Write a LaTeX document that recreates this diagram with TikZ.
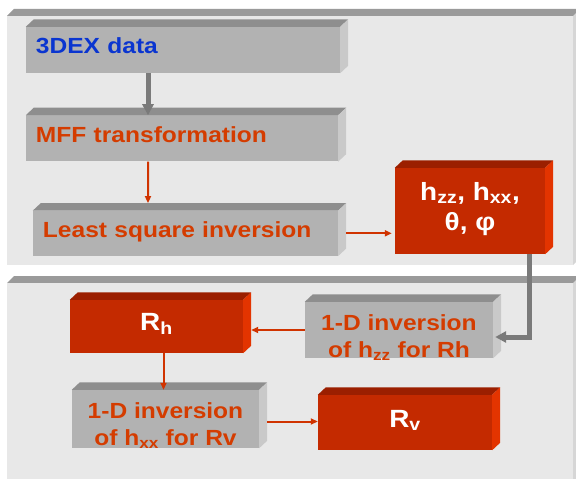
\documentclass[tikz,border=0pt]{standalone}
\usepackage{fontspec}
\setmainfont{Liberation Sans}[FakeStretch=1.12]
\usepackage{tikz}
\usetikzlibrary{arrows.meta,positioning,calc}
\definecolor{panelfill}{HTML}{E8E8E8}
\definecolor{paneltop}{HTML}{9A9A9A}
\definecolor{panelside}{HTML}{D6D6D6}
\definecolor{greyfront}{HTML}{B2B2B2}
\definecolor{greytop}{HTML}{8E8E8E}
\definecolor{greyside}{HTML}{C9C9C9}
\definecolor{redfront}{HTML}{C42A00}
\definecolor{redtop}{HTML}{9B1F00}
\definecolor{redside}{HTML}{E33400}
\definecolor{textred}{HTML}{D43C00}
\definecolor{textblue}{HTML}{0A35D0}
\definecolor{arrowgrey}{HTML}{7A7A7A}
\definecolor{arrowred}{HTML}{D03300}
\tikzset{
  greybox/.style={
    draw=none,fill=greyfront,inner xsep=10bp,inner ysep=0pt,
    text=textred,font=\bfseries\fontsize{22}{27}\selectfont
  },
  leftbox/.style={greybox,align=left,text height=16bp,text depth=8bp},
  midbox/.style={greybox,align=center,inner xsep=0pt},
  redbox/.style={
    draw=none,fill=redfront,inner sep=0pt,align=center,
    text=white,font=\bfseries\fontsize{25}{30}\selectfont
  },
  redarrow/.style={-{Triangle[length=7bp,width=6bp]},draw=arrowred,line width=2bp},
  greyarrow/.style={-{Triangle[length=11bp,width=11bp]},draw=arrowgrey,line width=5bp}
}
% top and right faces of a raised box
\newcommand{\boxbevel}[3]{%
  \fill[#2] (#1.north west) -- ++(8,-7.5) -- ($(#1.north east)+(8,-7.5)$) -- (#1.north east) -- cycle;
  \fill[#3] (#1.north east) -- ++(8,-7.5) -- ($(#1.south east)+(8,-7.5)$) -- (#1.south east) -- cycle;
}

\begin{document}
\begin{tikzpicture}[x=1bp,y=-1bp]
\useasboundingbox (0,0) rectangle (576,479);
% panels
\fill[paneltop] (7,16) -- (14,9) -- (583,9) -- (583,16) -- cycle;
\fill[panelfill] (7,16) rectangle (573,265);
\fill[panelside] (573,16) -- (580,9) -- (580,258) -- (573,265) -- cycle;
\fill[paneltop] (7,283) -- (14,276) -- (583,276) -- (583,283) -- cycle;
\fill[panelfill] (7,283) rectangle (573,485);
\fill[panelside] (573,283) -- (580,276) -- (580,485) -- (573,485) -- cycle;
% boxes
\node[leftbox,text=textblue,text width=294bp,minimum height=46bp] (dex) at (183,50) {3DEX data};
\node[leftbox,text width=292bp,minimum height=46bp,below=42bp of dex.south west,anchor=north west] (mff) {MFF transformation};
\node[leftbox,text width=285bp,minimum height=45bp,below right=49bp and 7bp of mff.south west,anchor=north west] (lsq) {Least square inversion};
\node[redbox,minimum width=150bp,minimum height=86bp,text height=38bp,text depth=0pt] (hpar) at (470,211)
{h\textsubscript{zz}, h\textsubscript{xx},\\θ, φ};
\node[redbox,minimum width=173bp,minimum height=53bp,text height=18bp,text depth=10bp] (rh) at (156.5,326.5) {R\textsubscript{h}};
\node[midbox,minimum width=188bp,minimum height=56bp,text height=54bp,text depth=0pt] (inzz) at (399,330)
{1-D inversion\\of h\textsubscript{zz} for Rh};
\node[midbox,minimum width=187bp,minimum height=58bp,text height=52bp,text depth=0pt] (inxx) at (165.5,419)
{1-D inversion\\of h\textsubscript{xx} for Rv};
\node[redbox,minimum width=174bp,minimum height=55bp,text height=18bp,text depth=8.5bp] (rv) at (405,422.5) {R\textsubscript{v}};
\foreach \n in {dex,mff,lsq,inzz,inxx} {\boxbevel{\n}{greytop}{greyside}}
\foreach \n in {hpar,rh,rv} {\boxbevel{\n}{redtop}{redside}}
% connectors
\draw[greyarrow] ($(dex.south)+(-35,0)$) -- ($(mff.north)+(-34,0)$);
\draw[redarrow] ($(mff.south)+(-34,0)$) -- ($(lsq.north)+(-37.5,-7.5)$);
\draw[redarrow] ($(lsq.east)+(8,0)$) -- ($(hpar.west |- lsq.east)+(-3,0)$);
\draw[greyarrow] ($(hpar.south east)+(-16,0)$) |- ($(inzz.east)+(2,7)$);
\draw[redarrow] (inzz.west) -- ($(rh.east |- inzz.west)+(8,0)$);
\draw[redarrow] ($(rh.south)+(7,0)$) -- ($(rh.south |- inxx.north)+(7,0)$);
\draw[redarrow] ($(inxx.east)+(8,2.5)$) -- ($(rv.west |- inxx.east)+(0,2.5)$);
\end{tikzpicture}
\end{document}
